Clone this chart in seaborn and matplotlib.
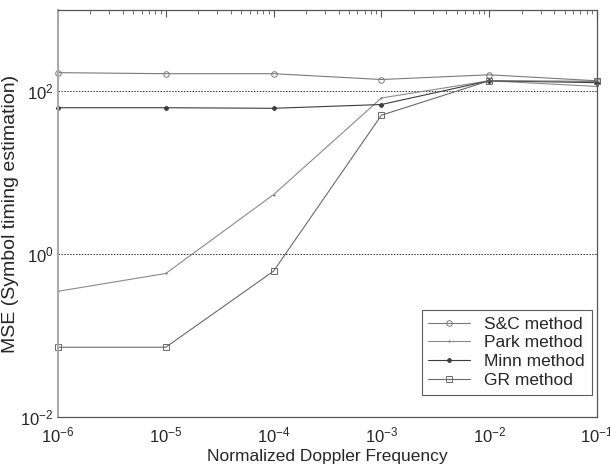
#!/usr/bin/env python3
# -*- coding: utf-8 -*-
"""MSE of symbol timing estimation vs normalized Doppler frequency"""
import matplotlib
matplotlib.use("Agg")
import matplotlib.pyplot as plt
import matplotlib.ticker as mticker
import pandas as pd
import seaborn as sns

# data
doppler = [1e-6, 1e-5, 1e-4, 1e-3, 1e-2, 1e-1]
sc_mse = [170, 165, 165, 140, 160, 135]
park_mse = [0.35, 0.58, 5.4, 83, 135, 115]
minn_mse = [63, 63, 62, 69, 135, 128]
gr_mse = [0.072, 0.072, 0.62, 51, 135, 133]
methods = ["S&C method", "Park method", "Minn method", "GR method"]

sns.set_style("white")
plt.rcParams["font.family"] = ["Liberation Sans", "DejaVu Sans"]
plt.rcParams["mathtext.fontset"] = "custom"
plt.rcParams["mathtext.rm"] = "Liberation Sans"
plt.rcParams["mathtext.it"] = "Liberation Sans"
plt.rcParams["mathtext.default"] = "regular"

df = pd.DataFrame({
    "freq": doppler * 4,
    "mse": sc_mse + park_mse + minn_mse + gr_mse,
    "method": [m for m in methods for _ in doppler],
})

fig = plt.figure(figsize=(6.1, 4.65), dpi=100)
ax = fig.add_axes([58 / 610, 1 - 417 / 465, 539 / 610, 407 / 465])

palette = {"S&C method": "#7a7a7a", "Park method": "#8a8a8a",
           "Minn method": "#3c3c3c", "GR method": "#6a6a6a"}
markers = {"S&C method": "o", "Park method": ".", "Minn method": "P",
           "GR method": "s"}
sizes = {"S&C method": 4, "Park method": 2, "Minn method": 3, "GR method": 5}

for m in methods:
    sub = df[df["method"] == m]
    sns.lineplot(data=sub, x="freq", y="mse", ax=ax, color=palette[m],
                 marker=markers[m], markersize=sizes[m], linewidth=0.8,
                 markerfacecolor="none" if m in ("S&C method", "GR method") else palette[m],
                 markeredgecolor=palette[m], markeredgewidth=0.7, label=m,
                 clip_on=False)

ax.set_xscale("log")
ax.set_yscale("log")
ax.set_xlim(1e-6, 1e-1)
ax.set_ylim(1e-2, 1e3)

ax.yaxis.set_major_locator(mticker.FixedLocator([1e-2, 1, 1e2]))
ax.yaxis.set_minor_locator(mticker.NullLocator())
ax.xaxis.set_major_locator(mticker.LogLocator(base=10, numticks=10))
ax.xaxis.set_minor_locator(mticker.LogLocator(base=10, subs=range(2, 10), numticks=20))
ax.xaxis.set_minor_formatter(mticker.NullFormatter())

for yv in [1, 1e2]:
    ax.axhline(yv, color="#333333", linestyle=(0, (1.5, 1.5)), linewidth=0.7, zorder=0)

ax.tick_params(axis="both", which="both", direction="in", top=True, right=False,
               labelsize=12, color="#555555")
ax.tick_params(axis="x", which="major", length=5, pad=6)
ax.tick_params(axis="y", which="major", length=0, pad=3)
ax.tick_params(which="minor", length=3)
for s in ax.spines.values():
    s.set_color("#555555")
    s.set_linewidth(0.9)
ax.spines["left"].set_color("#aaaaaa")
ax.spines["left"].set_linewidth(1.5)

ax.set_xlabel("Normalized Doppler Frequency", fontsize=12.5, labelpad=3)
ax.set_ylabel("MSE (Symbol timing estimation)", fontsize=14, labelpad=1)

leg = ax.legend(loc="lower right", bbox_to_anchor=(0.99, 0.055), fontsize=12.5,
                fancybox=False, frameon=True, edgecolor="#333333",
                handlelength=2.4, handletextpad=0.8, borderpad=0.4,
                labelspacing=0.2, borderaxespad=0)
leg.get_frame().set_linewidth(0.8)

fig.savefig("out.png", dpi=100)
